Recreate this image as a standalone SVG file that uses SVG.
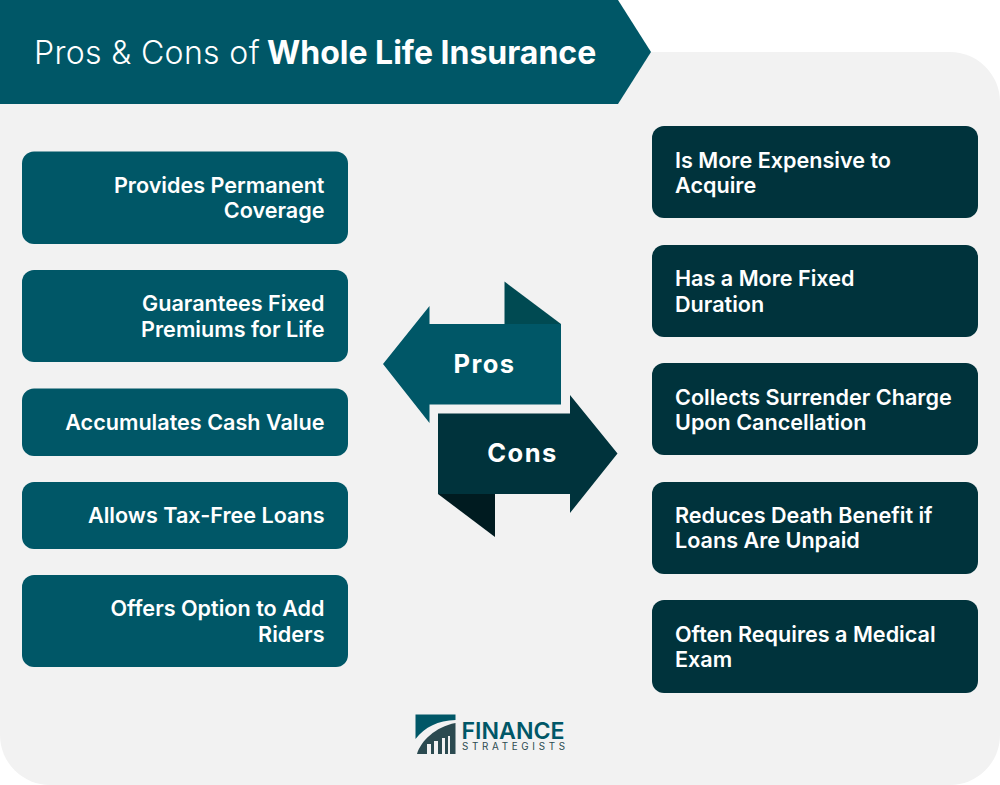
<svg xmlns="http://www.w3.org/2000/svg" width="1000" height="785" viewBox="0 0 1000 785">
<style>
text{font-family:Inter,"Liberation Sans",sans-serif;fill:#fff}
.t{font-size:21.6px;font-weight:600}
.r{text-anchor:end}
.pro{fill:#005767}
.con{fill:#00333c}
</style>
<rect width="1000" height="785" fill="#fff"/>
<rect id="panel" x="0" y="52" width="1000" height="733" rx="50" fill="#f2f2f2"/>
<g id="banner">
<path class="pro" d="M0 0H618L651 52L618 104H0Z"/>
<text x="34" y="64" font-size="32" font-weight="300" letter-spacing="0.350">Pros &amp; Cons of</text>
<text x="267" y="64" font-size="32" font-weight="700">Whole Life Insurance</text>
</g>
<g id="pro-1"><rect class="pro" x="22" y="151.500" width="326" height="92.500" rx="12"/><text class="t r" x="324.500" y="193">Provides Permanent</text><text class="t r" x="324.500" y="218">Coverage</text></g>
<g id="pro-2"><rect class="pro" x="22" y="270" width="326" height="92" rx="12"/><text class="t r" x="324.500" y="311">Guarantees Fixed</text><text class="t r" x="324.500" y="337">Premiums for Life</text></g>
<g id="pro-3"><rect class="pro" x="22" y="388.500" width="326" height="67.500" rx="12"/><text class="t r" x="324.500" y="430">Accumulates Cash Value</text></g>
<g id="pro-4"><rect class="pro" x="22" y="482" width="326" height="67" rx="12"/><text class="t r" x="324.500" y="523">Allows Tax-Free Loans</text></g>
<g id="pro-5"><rect class="pro" x="22" y="575" width="326" height="92" rx="12"/><text class="t r" x="324.500" y="616">Offers Option to Add</text><text class="t r" x="324.500" y="642">Riders</text></g>
<g id="con-1"><rect class="con" x="652" y="126" width="326" height="92" rx="12"/><text class="t" x="675" y="168">Is More Expensive to</text><text class="t" x="675" y="193">Acquire</text></g>
<g id="con-2"><rect class="con" x="652" y="245" width="326" height="92" rx="12"/><text class="t" x="675" y="286">Has a More Fixed</text><text class="t" x="675" y="312">Duration</text></g>
<g id="con-3"><rect class="con" x="652" y="363" width="326" height="92" rx="12"/><text class="t" x="675" y="405">Collects Surrender Charge</text><text class="t" x="675" y="430">Upon Cancellation</text></g>
<g id="con-4"><rect class="con" x="652" y="482" width="326" height="92" rx="12"/><text class="t" x="675" y="523">Reduces Death Benefit if</text><text class="t" x="675" y="548">Loans Are Unpaid</text></g>
<g id="con-5"><rect class="con" x="652" y="600" width="326" height="93" rx="12"/><text class="t" x="675" y="642">Often Requires a Medical</text><text class="t" x="675" y="667">Exam</text></g>
<g id="pros-arrow">
<path d="M504.500 281.500L561 324H504.500Z" fill="#004a52"/>
<path class="pro" d="M383 364L429.500 306V324H561V404.500H429.500V423Z"/>
<text x="484.500" y="373" font-size="25.500" font-weight="700" letter-spacing="1.500" text-anchor="middle">Pros</text>
</g>
<g id="cons-arrow">
<path d="M438 494L495 537V494Z" fill="#001b20"/>
<path class="con" d="M438 413.500H570V395L617.500 453.500L570 513V494H438Z"/>
<text x="522.500" y="462" font-size="25.500" font-weight="700" letter-spacing="1.500" text-anchor="middle">Cons</text>
</g>
<g id="logo">
<path class="pro" d="M415.500 714.500H455.500V720C438 720.500 425 727 415.500 739Z"/>
<path d="M417 754C421 741 435 727 455.500 723V754H450V736H448V754H445V738H442V754H438V741H434V754H431V744H427V754Z" fill="#2b4a50"/>
<text x="461.500" y="739" font-size="23.500" font-weight="600" style="fill:#005767" textLength="103" lengthAdjust="spacingAndGlyphs">FINANCE</text>
<text x="462" y="749.500" font-size="9.800" font-weight="400" style="fill:#2b4a50" textLength="103" lengthAdjust="spacing">STRATEGISTS</text>
</g>
</svg>
